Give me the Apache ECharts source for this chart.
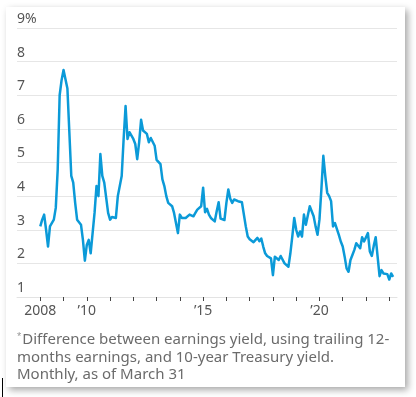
<!DOCTYPE html>
<html>
<head>
<meta charset="utf-8">
<script src="https://cdn.jsdelivr.net/npm/echarts@6/dist/echarts.min.js"></script>
<style>
html,body{margin:0;padding:0;background:#fff;}
#chart{width:416px;height:397px;}
</style>
</head>
<body>
<div id="chart"></div>
<script>
// Monthly values, Jan 2008 .. Mar 2023 (percentage points)
var startYear = 2008;
var values = [
  3.1, 3.3, 3.45, 3.0, 2.5, 3.1, 3.15, 3.3, 3.65, 4.8, 7.0, 7.45,      // 2008
  7.75, 7.7, 7.2, 5.9, 4.6, 4.4, 3.8, 3.3, 3.25, 3.15, 2.7, 2.08,      // 2009
  2.55, 2.7, 2.3, 2.3, 3.5, 4.3, 4.0, 5.25, 4.6, 4.4, 4.35, 3.5,       // 2010
  3.3, 3.38, 3.35, 3.35, 4.0, 4.0, 4.6, 5.7, 6.68, 5.7, 5.9, 5.95,     // 2011
  5.7, 5.55, 5.1, 5.6, 6.27, 5.95, 5.95, 5.85, 5.6, 5.73, 5.7, 5.5,    // 2012
  5.08, 5.05, 4.95, 4.5, 4.3, 4.0, 3.8, 3.8, 3.7, 3.5, 3.2, 2.9,       // 2013
  3.45, 3.35, 3.4, 3.35, 3.33, 3.45, 3.4, 3.4, 3.5, 3.6, 3.65, 3.7,    // 2014
  4.25, 3.52, 3.62, 3.45, 3.35, 3.3, 3.25, 3.55, 3.82, 3.33, 3.3, 3.29,// 2015
  3.8, 4.2, 3.92, 3.8, 3.9, 3.95, 3.85, 3.83, 3.82, 3.8, 3.1, 2.8,     // 2016
  2.72, 2.68, 2.63, 2.66, 2.76, 2.66, 2.74, 2.5, 2.3, 2.22, 2.2, 2.15, // 2017
  1.65, 2.2, 2.15, 2.1, 2.22, 2.2, 2.0, 2.05, 1.9, 2.3, 2.8, 3.35,     // 2018
  3.0, 2.8, 2.95, 2.8, 3.45, 3.15, 3.12, 3.7, 3.55, 3.4, 3.1, 2.85,    // 2019
  3.3, 4.2, 5.2, 4.6, 4.1, 4.0, 3.85, 3.1, 3.2, 3.2, 2.85, 2.65,       // 2020
  2.5, 2.2, 1.85, 1.75, 2.1, 2.25, 2.4, 2.6, 2.65, 2.45, 2.78, 2.65,   // 2021
  2.6, 2.9, 2.35, 2.22, 2.52, 2.78, 2.2, 1.62, 1.8, 1.7, 1.72, 1.68,   // 2022
  1.52, 1.7, 1.6                                                       // 2023
];
var yTicks = [1, 2, 3, 4, 5, 6, 7, 8, 9];
var xTickYears = [2008, 2009, 2010, 2011, 2012, 2013, 2014, 2015, 2016, 2017, 2018, 2019, 2020, 2021, 2022, 2023];
var xLabelYears = [2008, 2010, 2015, 2020];
var xLabelTexts = ['2008', '\u201910', '\u201915', '\u201920'];
var footnote = ['Difference between earnings yield, using trailing 12-',
                'months earnings, and 10-year Treasury yield.',
                'Monthly, as of March 31'];

var seriesData = values.map(function (v, i) { return [i, v]; });
var tickMonths = xTickYears.map(function (y) { return (y - startYear) * 12; });
var labelMonths = xLabelYears.map(function (y) { return (y - startYear) * 12; });

var FONT = '"Noto Sans", sans-serif';
var chart = echarts.init(document.getElementById('chart'), null, {renderer: 'canvas'});
chart.setOption({
  animation: false,
  backgroundColor: '#ffffff',
  grid: {left: 17, right: 19, top: 28, bottom: 100, containLabel: false},
  graphic: [
    {type: 'rect', z: -10, shape: {x: 6, y: 7, width: 399, height: 380},
     style: {fill: '#ffffff', shadowBlur: 7, shadowOffsetX: 3, shadowOffsetY: 3, shadowColor: 'rgba(0,0,0,0.35)'}},
    {type: 'line', z: 10, shape: {x1: 2.5, y1: 378, x2: 2.5, y2: 397}, style: {stroke: '#000', lineWidth: 1}},
    {type: 'text', left: 17, top: 331, z: 10,
     style: {
       text: '{s|*}' + footnote[0] + '\n' + footnote[1] + '\n' + footnote[2],
       font: '15px ' + FONT, fill: '#6b6b6b', lineHeight: 17.5,
       rich: {s: {fontSize: 11, fill: '#999', verticalAlign: 'top', lineHeight: 17.5, padding: [0, 1, 4, 0]}}
     }}
  ],
  xAxis: {
    type: 'value', min: -12, max: 184,
    axisLine: {show: true, lineStyle: {color: '#e3e3e3', width: 1}},
    axisTick: {show: true, customValues: tickMonths, length: 4, lineStyle: {color: '#444', width: 1}},
    axisLabel: {customValues: labelMonths, margin: 7, color: '#555', fontFamily: FONT, fontSize: 14,
      formatter: function (v) { var k = labelMonths.indexOf(v); return k >= 0 ? xLabelTexts[k] : ''; }},
    splitLine: {show: false}
  },
  yAxis: {
    type: 'value', min: yTicks[0], max: yTicks[yTicks.length - 1], interval: 1,
    axisLine: {show: false}, axisTick: {show: false},
    axisLabel: {inside: true, margin: 0, verticalAlign: 'bottom', padding: [0, 0, 2, 0],
      color: '#555', fontFamily: FONT, fontSize: 14,
      formatter: function (v) { return v === yTicks[yTicks.length - 1] ? v + '%' : String(v); }},
    splitLine: {show: true, lineStyle: {color: '#e6e6e6', width: 1}}
  },
  series: [{
    type: 'line', data: seriesData, showSymbol: false, symbol: 'none',
    lineStyle: {color: '#0b9ad8', width: 2.5, join: 'round'}
  }]
});
</script>
</body>
</html>
